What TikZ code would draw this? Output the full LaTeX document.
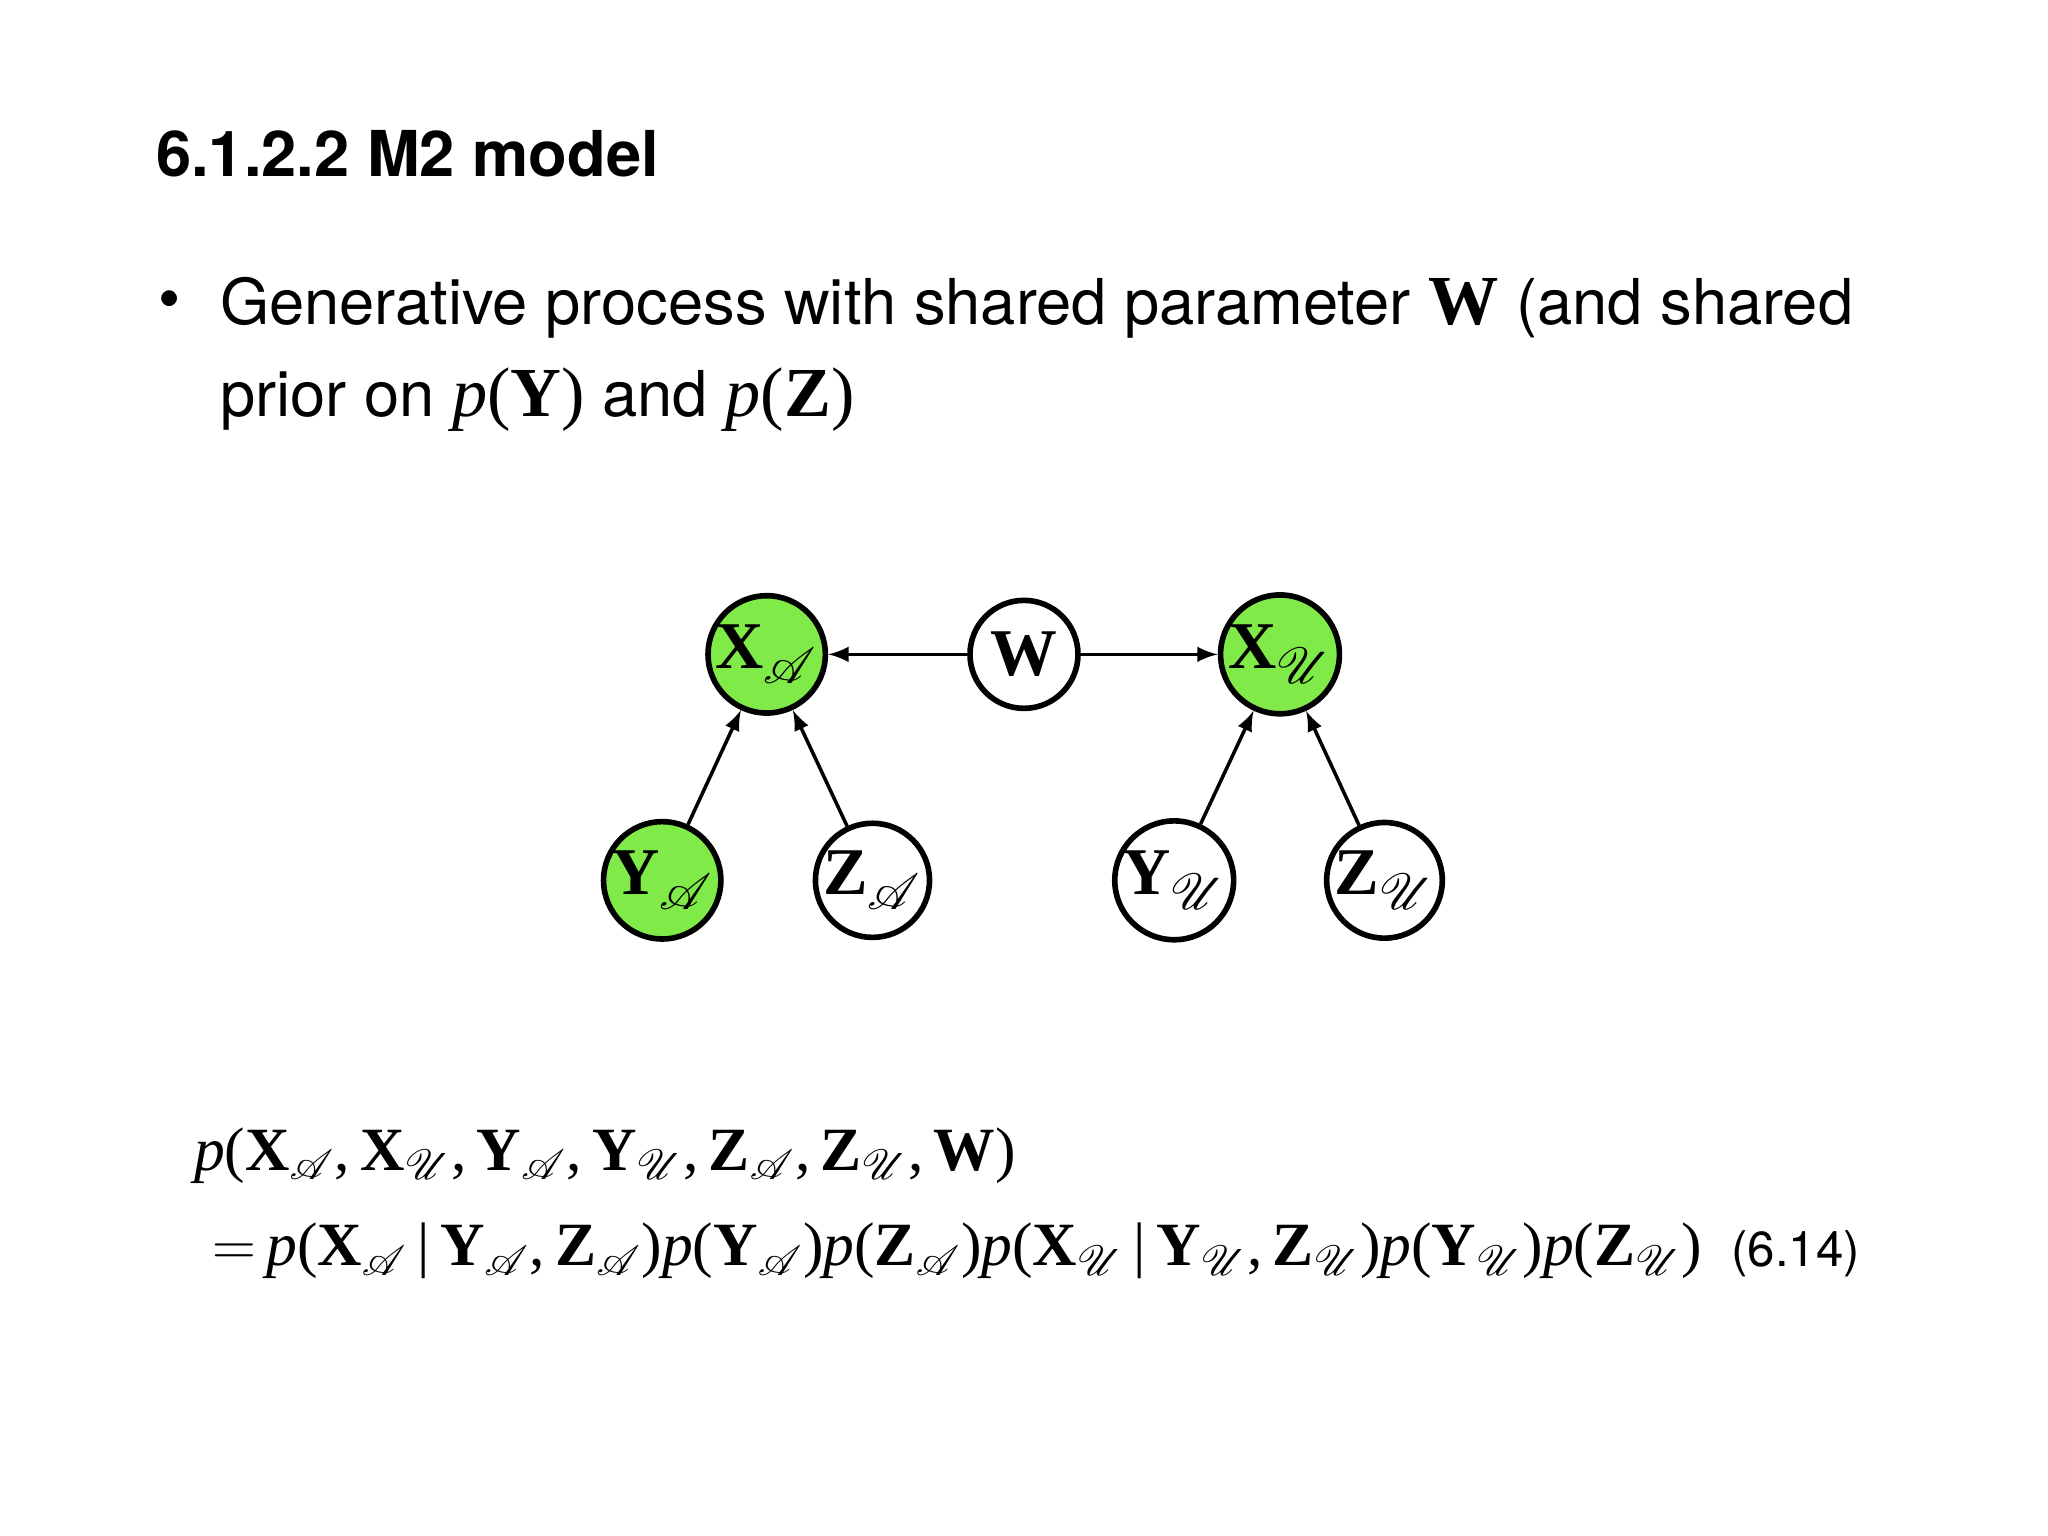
\documentclass[tikz,border=0pt]{standalone}
\usepackage{amsmath,amssymb,mathrsfs}
\usepackage{fontspec}
\setmainfont{TeX Gyre Heros}
\newfontfamily\tms{Liberation Serif}
\newcommand\sA{$_{\mathscr{A}}$}
\newcommand\sU{$_{\mathscr{U}}$}
\newcommand\pI{\textit{p}}
\newcommand\bb[1]{\textbf{#1}}
\begin{document}
\begin{tikzpicture}[x=0.01306cm,y=-0.01306cm,
  nd/.style={circle,draw,line width=1.6pt,minimum size=1.08cm,inner sep=0pt,font=\tms\bfseries\fontsize{19}{19}\selectfont},
  gr/.style={nd,fill=gfill},
  ar/.style={-latex,line width=1pt}]
\definecolor{gfill}{RGB}{128,234,72}
\useasboundingbox (0,0) rectangle (1568,1176);
\node[anchor=west,font=\bfseries\fontsize{18}{22}\selectfont] (t) at (110,118) {6.1.2.2 M2 model};
\node[anchor=west,font=\fontsize{18}{22}\selectfont] (b) at (112,234) {\textbullet};
\node[anchor=north west,align=left,font=\fontsize{18}{26}\selectfont,inner sep=0pt] (bt) at (168,212)
 {Generative process with shared parameter {\tms\fontsize{20}{20}\selectfont\bfseries W} (and shared\\prior on {\tms\fontsize{20}{20}\selectfont\textit{p}(\textbf{Y})} and {\tms\fontsize{20}{20}\selectfont\textit{p}(\textbf{Z})}};
\node[gr] (xa) at (587,501) {X\sA};
\node[nd] (w) at (784,501) {W};
\node[gr] (xu) at (980,501) {X\sU};
\node[gr] (ya) at (507,674) {Y\sA};
\node[nd] (za) at (668,674) {Z\sA};
\node[nd] (yu) at (899,674) {Y\sU};
\node[nd] (zu) at (1060,674) {Z\sU};
\draw[ar] (w) -- (xa);
\draw[ar] (w) -- (xu);
\draw[ar] (ya) -- (xa);
\draw[ar] (za) -- (xa);
\draw[ar] (yu) -- (xu);
\draw[ar] (zu) -- (xu);
\node[anchor=west,font=\tms\fontsize{17.5}{20}\selectfont,inner sep=0pt] (e1) at (148,885)
 {\pI(\bb{X}\sA,\,\bb{X}\sU,\,\bb{Y}\sA,\,\bb{Y}\sU,\,\bb{Z}\sA,\,\bb{Z}\sU,\,\bb{W})};
\node[anchor=west,font=\tms\fontsize{17.5}{20}\selectfont,inner sep=0pt] (e2) at (162,958)
 {$=$\,\pI(\bb{X}\sA\,|\,\bb{Y}\sA,\,\bb{Z}\sA)\pI(\bb{Y}\sA)\pI(\bb{Z}\sA)\pI(\bb{X}\sU\,|\,\bb{Y}\sU,\,\bb{Z}\sU)\pI(\bb{Y}\sU)\pI(\bb{Z}\sU)};
\node[anchor=west,font=\fontsize{14}{16}\selectfont,inner sep=0pt] (en) at (1325,960) {(6.14)};
\end{tikzpicture}
\end{document}
